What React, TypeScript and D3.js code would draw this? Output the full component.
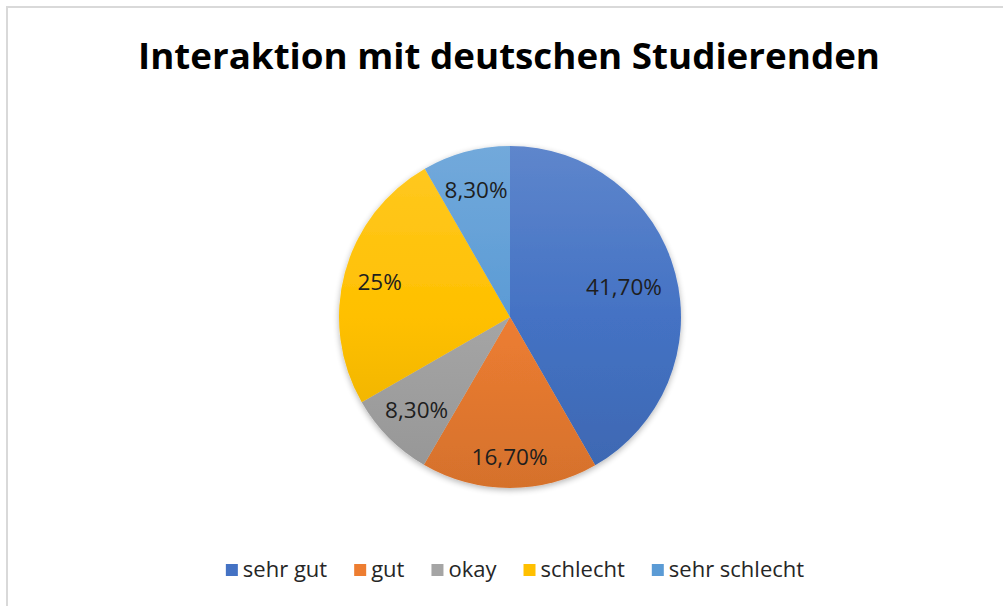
import React, { useEffect, useRef } from "react";
import * as d3 from "d3";

const categories = ["sehr gut", "gut", "okay", "schlecht", "sehr schlecht"];
const values = [41.7, 16.7, 8.3, 25, 8.3];
const valueLabels = ["41,70%", "16,70%", "8,30%", "25%", "8,30%"];
const colors = ["#4472C4", "#ED7D31", "#A5A5A5", "#FFC000", "#5B9BD5"];
const title = "Interaktion mit deutschen Studierenden";

const W = 1003;
const H = 606;

export default function App() {
  const ref = useRef<SVGSVGElement | null>(null);

  useEffect(() => {
    const svg = d3.select(ref.current!);
    svg.selectAll("*").remove();
    const font = "'Open Sans', 'Noto Sans', sans-serif";

    // chart frame
    svg.append("rect").attr("width", W).attr("height", H).attr("fill", "#fff");
    svg
      .append("path")
      .attr("d", `M7,${H + 5} L7,7 L${W + 5},7`)
      .attr("fill", "none")
      .attr("stroke", "#d9d9d9")
      .attr("stroke-width", 2);

    // title
    svg
      .append("text")
      .attr("x", 509)
      .attr("y", 69)
      .attr("text-anchor", "middle")
      .attr("font-family", font)
      .attr("font-weight", 700)
      .attr("font-size", 36)
      .attr("fill", "#000")
      .attr("textLength", 742)
      .attr("lengthAdjust", "spacingAndGlyphs")
      .text(title);

    const cx = 510;
    const cy = 317;
    const r = 171;

    const defs = svg.append("defs");
    const shadow = defs
      .append("filter")
      .attr("id", "pieShadow")
      .attr("x", "-20%")
      .attr("y", "-20%")
      .attr("width", "140%")
      .attr("height", "140%");
    shadow.append("feGaussianBlur").attr("in", "SourceAlpha").attr("stdDeviation", 3).attr("result", "b");
    shadow.append("feOffset").attr("in", "b").attr("dx", 0).attr("dy", 2).attr("result", "o");
    shadow
      .append("feComponentTransfer")
      .attr("in", "o")
      .attr("result", "s")
      .append("feFuncA")
      .attr("type", "linear")
      .attr("slope", 0.3);
    const merge = shadow.append("feMerge");
    merge.append("feMergeNode").attr("in", "s");
    merge.append("feMergeNode").attr("in", "SourceGraphic");

    colors.forEach((c, i) => {
      const g = defs
        .append("linearGradient")
        .attr("id", `grad${i}`)
        .attr("gradientUnits", "userSpaceOnUse")
        .attr("x1", 0)
        .attr("y1", -r)
        .attr("x2", 0)
        .attr("y2", r);
      g.append("stop").attr("offset", "0%").attr("stop-color", d3.interpolateRgb(c, "#ffffff")(0.14));
      g.append("stop").attr("offset", "50%").attr("stop-color", c);
      g.append("stop").attr("offset", "100%").attr("stop-color", d3.interpolateRgb(c, "#000000")(0.1));
    });

    const pie = d3
      .pie<number>()
      .sort(null)
      .value((d) => d);
    const arcs = pie(values);
    const arc = d3.arc<d3.PieArcDatum<number>>().innerRadius(0).outerRadius(r);

    const g = svg.append("g").attr("transform", `translate(${cx},${cy})`);
    const slices = g.append("g").attr("filter", "url(#pieShadow)");
    slices
      .selectAll("path")
      .data(arcs)
      .join("path")
      .attr("d", arc as any)
      .attr("fill", (_d, i) => `url(#grad${i})`);

    const labelRatio = [0.69, 0.82, 0.77, 0.79, 0.77];
    g.selectAll("text.lbl")
      .data(arcs)
      .join("text")
      .attr("class", "lbl")
      .attr("transform", (d, i) => {
        const a = d3
          .arc<d3.PieArcDatum<number>>()
          .innerRadius(r * labelRatio[i])
          .outerRadius(r * labelRatio[i]);
        const [x, y] = a.centroid(d);
        return `translate(${x},${y})`;
      })
      .attr("text-anchor", "middle")
      .attr("dy", "0.36em")
      .attr("font-family", font)
      .attr("font-size", 22.5)
      .attr("fill", "#1e1e1e")
      .text((_d, i) => valueLabels[i]);

    // legend
    const legendFont = 22;
    const sq = 12;
    const gapSqText = 5;
    const gapItems = 27;
    const legend = svg.append("g");
    const items = categories.map((c, i) => {
      const t = legend
        .append("text")
        .attr("font-family", font)
        .attr("font-size", legendFont)
        .attr("fill", "#262626")
        .attr("y", 577)
        .text(c);
      const w = (t.node() as SVGTextElement).getComputedTextLength();
      return { t, w, i };
    });
    const total =
      items.reduce((s, it) => s + sq + gapSqText + it.w, 0) + gapItems * (items.length - 1);
    let x = 515 - total / 2;
    items.forEach((it) => {
      legend
        .append("rect")
        .attr("x", x)
        .attr("y", 564)
        .attr("width", sq)
        .attr("height", sq)
        .attr("fill", colors[it.i]);
      it.t.attr("x", x + sq + gapSqText);
      x += sq + gapSqText + it.w + gapItems;
    });
  }, []);

  return (
    <svg
      ref={ref}
      width={W}
      height={H}
      style={{ position: "absolute", left: 0, top: 0, display: "block" }}
    />
  );
}
